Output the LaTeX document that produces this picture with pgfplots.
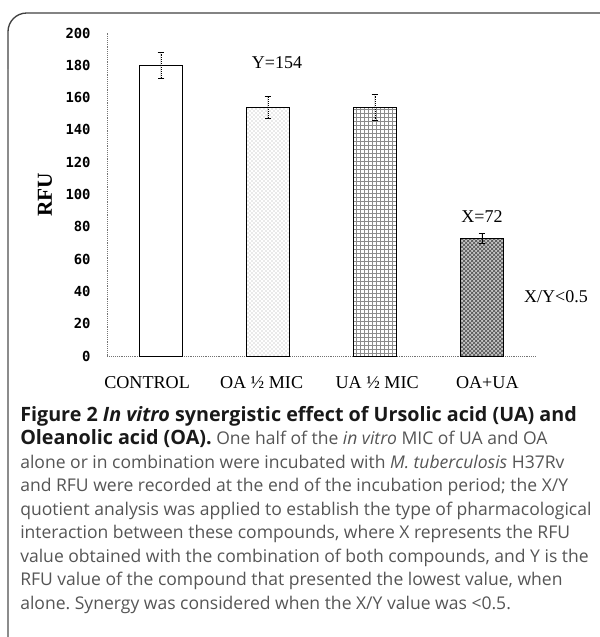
\documentclass[border=0pt]{standalone}
\usepackage{fontspec}
\usepackage{pgfplots}
\pgfplotsset{compat=1.18}
\usetikzlibrary{patterns}
\setmainfont{Liberation Serif}
\newfontfamily\capfont{Open Sans}
\newfontfamily\tickfont{DejaVu Sans Mono}
\definecolor{captxt}{HTML}{555555}
\frenchspacing
\begin{document}
\begin{tikzpicture}
\useasboundingbox (0,0) rectangle (450pt,-477.75pt);
\begin{axis}[
 at={(80.625pt,-267pt)}, anchor=south west, scale only axis,
 width=321pt, height=242.25pt,
 xmin=-0.5, xmax=3.5, ymin=0, ymax=200,
 axis x line=bottom, axis y line=left,
 axis line style={-, black!55, densely dotted},
 major tick length=0pt,
 ytick={0,20,...,200},
 xtick={-0.13,0.94,2.02,3.05},
 xticklabels={CONTROL, OA ½ MIC, UA ½ MIC, OA+UA},
 yticklabel style={font=\tickfont\bfseries\fontsize{10.4}{12}\selectfont, anchor=east, inner sep=0pt, xshift=-12.5pt},
 xticklabel style={font=\fontsize{13.6}{15}\selectfont, anchor=base, inner sep=0pt, yshift=-24pt},
 /pgf/number format/assume math mode=true,
 ybar, bar width=0.4,
 clip=false,
]
\addplot[ybar, bar shift=0pt, fill=white, draw=black, line width=0.6pt,
  error bars/.cd, y dir=both, y explicit, error bar style={black, line width=0.4pt, densely dotted}, error mark options={rotate=90, mark size=2.5pt, solid, black}]
  coordinates {(0,180) +- (0,8)};
\addplot[ybar, bar shift=0pt, fill=white, draw=black, line width=0.6pt,
  postaction={pattern=crosshatch dots, pattern color=black!35},
  error bars/.cd, y dir=both, y explicit, error bar style={black, line width=0.4pt, densely dotted}, error mark options={rotate=90, mark size=2.5pt, solid, black}]
  coordinates {(1,154) +- (0,7)};
\addplot[ybar, bar shift=0pt, fill=white, draw=black, line width=0.6pt,
  postaction={pattern=grid, pattern color=black!45},
  error bars/.cd, y dir=both, y explicit, error bar style={black, line width=0.4pt, densely dotted}, error mark options={rotate=90, mark size=2.5pt, solid, black}]
  coordinates {(2,154) +- (0,8)};
\addplot[ybar, bar shift=0pt, fill=gray!45, draw=black, line width=0.6pt,
  postaction={pattern=crosshatch, pattern color=black!70},
  error bars/.cd, y dir=both, y explicit, error bar style={black, line width=0.4pt}, error mark options={rotate=90, mark size=2.5pt, solid, black}]
  coordinates {(3,73) +- (0,3)};
\end{axis}
\begin{scope}[x=0.75pt,y=-0.75pt]
\draw[black!75, line width=1pt, rounded corners=14] (8,70) -- (8,13) -- (601,13);
\draw[black!45, line width=0.8pt] (8,69) -- (8,640);
\node[rotate=90, font=\bfseries\fontsize{16}{18}\selectfont, inner sep=0pt] at (45,195) {RFU};
\node[font=\fontsize{13.5}{15}\selectfont, inner sep=0pt] at (277,63) {Y=154};
\node[font=\fontsize{13.5}{15}\selectfont, inner sep=0pt] at (482,217) {X=72};
\node[font=\fontsize{13.5}{15}\selectfont, inner sep=0pt] at (556,297) {X/Y<0.5};
\begin{scope}[every node/.style={anchor=base west, inner sep=0pt, font=\capfont\fontsize{13.15}{15}\selectfont, text=captxt}]
\node[text=black!90] at (20,421) {\fontsize{14.8}{16}\selectfont\bfseries Figure 2 \itshape In vitro\upshape{} synergistic effect of Ursolic acid (UA) and};
\node at (20,444.5) {\textcolor{black!90}{\fontsize{14.8}{16}\selectfont\bfseries Oleanolic acid (OA).} One half of the \textit{in vitro} MIC of UA and OA};
\node at (20,468) {alone or in combination were incubated with \textit{M. tuberculosis} H37Rv};
\node at (20,491.5) {and RFU were recorded at the end of the incubation period; the X/Y};
\node at (20,515) {quotient analysis was applied to establish the type of pharmacological};
\node at (20,538.5) {interaction between these compounds, where X represents the RFU};
\node at (20,562) {value obtained with the combination of both compounds, and Y is the};
\node at (20,585.5) {RFU value of the compound that presented the lowest value, when};
\node at (20,609) {alone. Synergy was considered when the X/Y value was <0.5.};
\end{scope}
\end{scope}
\end{tikzpicture}
\end{document}
